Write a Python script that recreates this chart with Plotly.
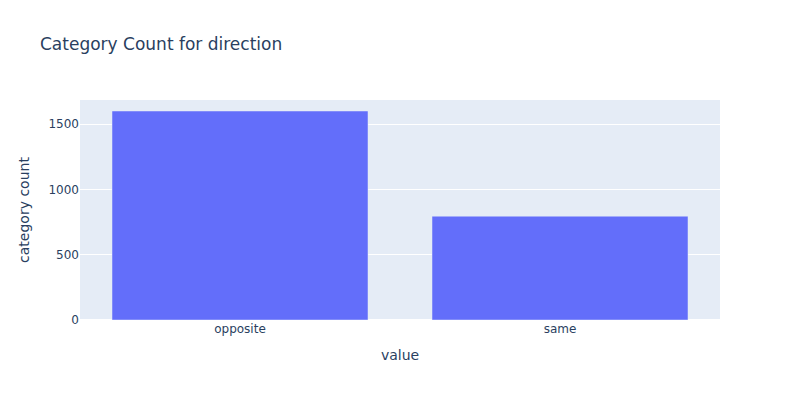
import plotly.graph_objects as go

categories = ["opposite", "same"]
counts = [1600, 795]

fig = go.Figure(go.Bar(x=categories, y=counts, marker_color="#636efa"))
fig.update_layout(
    template="plotly",
    font=dict(family="Verdana, DejaVu Sans, sans-serif"),
    title=dict(text="Category Count for direction"),
    xaxis_title="value",
    yaxis_title="category count",
)
fig.write_html("out.html", default_width="800px", default_height="400px",
               config={"displayModeBar": False},
               post_script="document.body.style.margin='0';")
